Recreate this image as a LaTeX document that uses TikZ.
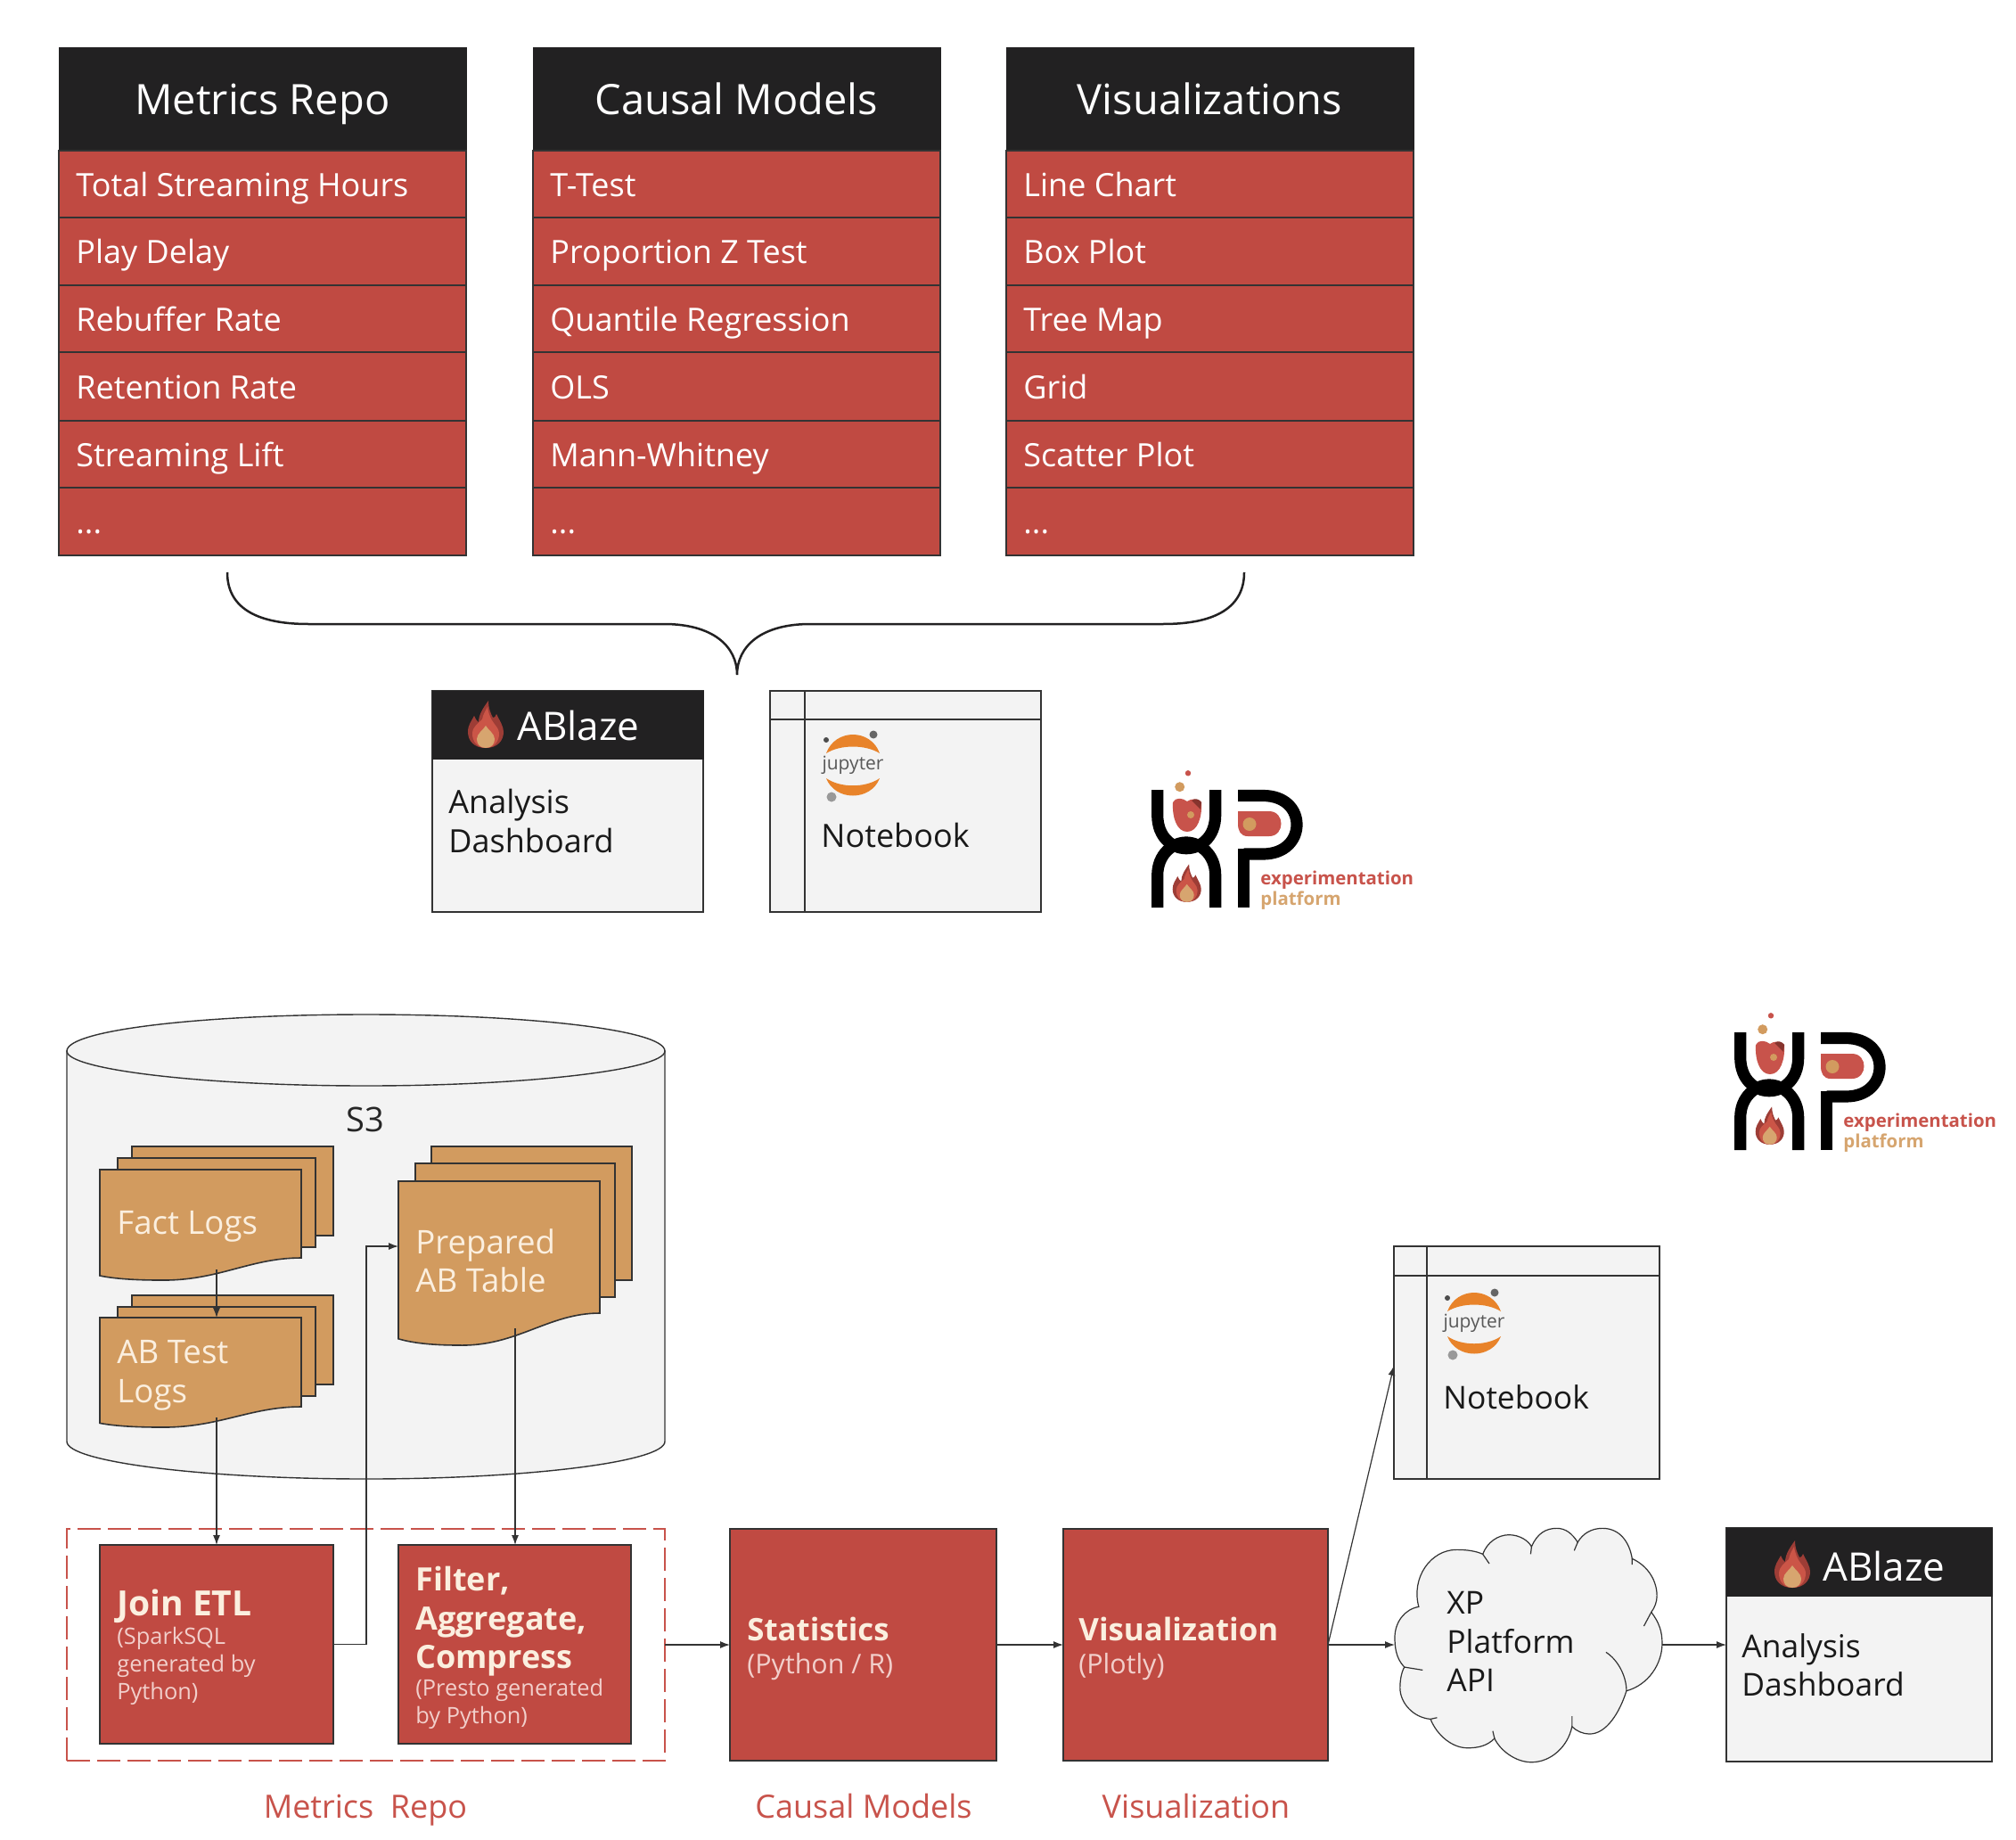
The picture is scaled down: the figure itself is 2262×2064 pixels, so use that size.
\documentclass[tikz,border=0pt]{standalone}
\usepackage{fontspec}
\setmainfont{Open Sans}
\usetikzlibrary{arrows.meta}
\definecolor{xred}{HTML}{C04A42}
\definecolor{xdark}{HTML}{222122}
\definecolor{xgray}{HTML}{F3F3F3}
\definecolor{xorange}{HTML}{D29B5F}
\definecolor{xline}{HTML}{333333}
\definecolor{xlabel}{HTML}{C8534B}
\definecolor{xpale}{HTML}{FBEFDF}
\definecolor{xpink}{HTML}{F2CFCB}
\definecolor{xjup}{HTML}{E8832A}
\newcommand\pxbox[6]{%
  \pgfmathsetmacro\bw{(#4-#2)*0.5}\pgfmathsetmacro\bh{(#5-#3)*0.5}%
  \pgfmathsetmacro\bx{(#2+#4)/2}\pgfmathsetmacro\by{(#3+#5)/2}%
  \node[#6,minimum width=\bw pt,minimum height=\bh pt] (#1) at (\bx,\by) {};}
\newcommand\headbox[3]{\pxbox{#1}{#2}{53}{#2+457}{169}{headst}\node[headtxt] at ([yshift=-.6pt]#1) (#1t) {#3};}
\newcommand\rowbox[5]{\pxbox{#1}{#2}{#3}{#2+457}{#4}{rowst}\node[rowtxt,anchor=west] (#1t) at ({#2+19},{(#3+#4)/2+1}) {#5};}
\newcommand\docback[4]{\draw[docst] (#1,#2) rectangle (#3,#4);}
\newcommand\docfront[4]{\draw[docst] (#1,#2) -- ({#1+226},#2) -- ({#1+226},#3)
  .. controls ({#1+168},#3) and ({#1+133},{#3+#4*1.04}) .. ({#1+68},{#3+#4})
  .. controls ({#1+43},{#3+#4}) and ({#1+18},{#3+#4*0.95}) .. (#1,{#3+#4*0.8}) -- cycle;}
\tikzset{
  capmid/.style={text height=16pt,text depth=3.2pt},
  headst/.style={draw=xdark,fill=xdark,inner sep=0pt,outer sep=0pt},
  headtxt/.style={text=white,inner sep=0pt,text height=20pt,text depth=3.2pt,font=\fontsize{23.5}{27}\selectfont},
  rowst/.style={draw=xline,line width=.7pt,fill=xred,inner sep=0pt,outer sep=0pt},
  rowtxt/.style={text=white,inner sep=0pt,capmid,font=\fontsize{18}{21}\selectfont},
  graybox/.style={draw=xline,line width=.7pt,fill=xgray,inner sep=0pt,outer sep=0pt},
  redbox/.style={draw=xline,line width=.6pt,fill=xred,inner sep=0pt,outer sep=0pt},
  plain/.style={inner sep=0pt,outer sep=0pt},
  darktxt/.style={text=black!90,inner sep=0pt,align=left,font=\fontsize{18}{21.7}\selectfont},
  ablazetxt/.style={text=white,inner sep=0pt,text height=19.5pt,text depth=3.2pt,font=\fontsize{22}{26}\selectfont},
  docst/.style={draw=xline,line width=.8pt,fill=xorange},
  doctxt/.style={text=xpale,inner sep=0pt,align=left,font=\fontsize{18.3}{21.7}\selectfont},
  redbold/.style={text=xpale,inner sep=0pt,align=left,font=\fontsize{18}{21.7}\selectfont\bfseries},
  redsub/.style={text=xpink,inner sep=0pt,align=left,font=\fontsize{12.7}{15.5}\selectfont},
  capt/.style={text=xlabel,inner sep=0pt,capmid,font=\fontsize{18}{21}\selectfont},
  conn/.style={draw=xline,line width=.6pt,-{Latex[length=5.5pt,width=4pt]}},
  flamepic/.pic={
    \fill[fill=xred!82!black] (0,26) .. controls (-13,26) and (-20,18) .. (-20,8)
      .. controls (-20,0) and (-16,-4) .. (-13,-10) .. controls (-11,-6) and (-10,-4) .. (-8,-3)
      .. controls (-8,-12) and (-2,-20) .. (3,-27) .. controls (3,-18) and (6,-12) .. (8,-8)
      .. controls (10,-8) and (11,-9) .. (12,-12) .. controls (16,-4) and (20,2) .. (20,8)
      .. controls (20,18) and (13,26) .. (0,26) -- cycle;
    \fill[fill=xlabel!95!orange] (0,26) .. controls (-10,26) and (-15,18) .. (-15,10)
      .. controls (-15,2) and (-8,-2) .. (-4,-6) .. controls (-3,-12) and (0,-16) .. (2,-20)
      .. controls (3,-12) and (6,-6) .. (9,-2) .. controls (13,3) and (15,6) .. (15,10)
      .. controls (15,18) and (10,26) .. (0,26) -- cycle;
    \fill[fill=xorange!90!white] (0,26) .. controls (-7,26) and (-10,21) .. (-10,16)
      .. controls (-10,10) and (-3,6) .. (0,1) .. controls (3,6) and (10,10) .. (10,16)
      .. controls (10,21) and (7,26) .. (0,26) -- cycle;
  },
  jupiterpic/.pic={
    \fill[fill=xjup] (-30,-13) .. controls (-20,-41) and (20,-41) .. (30,-13)
      .. controls (14,-23) and (-14,-23) .. cycle;
    \fill[fill=xjup] (-30,15) .. controls (-20,41) and (20,41) .. (30,15)
      .. controls (14,26) and (-14,26) .. cycle;
    \fill[fill=black!60] (23,-34) circle (4.5);
    \fill[fill=black!70] (-30,-28) circle (3);
    \fill[fill=black!40] (-24,36) circle (5.5);
    \node[inner sep=0pt,text=black!65,font=\fontsize{10.5}{12}\selectfont] (-jt) at (0,0) {jupyter};
  },
  xplogo/.pic={
    \draw[line width=6.6pt,black] (6.7,0) -- (6.7,28) .. controls (6.7,54) and (24,65.7) .. (39,65.7)
      .. controls (54,65.7) and (71.7,54) .. (71.7,28) -- (71.7,0);
    \draw[line width=6.6pt,black] (6.7,132) -- (6.7,96) .. controls (6.7,72) and (24,59) .. (39,59)
      .. controls (54,59) and (71.7,72) .. (71.7,96) -- (71.7,132);
    \draw[line width=6.6pt,black] (97,6.5) -- (125,6.5) .. controls (150,6.5) and (163,22) .. (163,39)
      .. controls (163,56) and (150,72) .. (125,72) -- (103.6,72);
    \draw[line width=6.6pt,black] (103.6,66) -- (103.6,132);
    \fill[xlabel] (97,24) -- (132,24) .. controls (150,24) and (150,52) .. (132,52) -- (108,52)
      .. controls (100,52) and (97,46) .. (97,38) -- cycle;
    \fill[xorange] (110,38.5) circle (7.5);
    \fill[xlabel] (24,14) .. controls (27,8) and (35,9) .. (40,13) .. controls (44,10) and (50,9) .. (56,14)
      .. controls (57,30) and (52,47) .. (40,47) .. controls (28,47) and (23,30) .. (24,14) -- cycle;
    \fill[xred!70!black] (45,12) .. controls (49,9) and (53,10) .. (56,14) -- (55,22) .. controls (51,18) and (48,15) .. (45,12) -- cycle;
    \fill[xorange] (44,28) circle (4);
    \fill[xlabel] (41,-18.7) circle (3.2);
    \fill[xorange] (31.7,-3.3) circle (5.5);
    \pic[scale=.8] at (39.7,105) {flamepic};
    \node[anchor=west,inner sep=0pt,text=xlabel,font=\fontsize{10.2}{12}\selectfont\bfseries] (-ex) at (122,101.5) {experimentation};
    \node[anchor=west,inner sep=0pt,text=xorange!90!white,font=\fontsize{10.2}{12}\selectfont\bfseries] (-pl) at (122,124.5) {platform};
  }
}
\begin{document}
\begin{tikzpicture}[x=0.5pt,y=-0.5pt]
\useasboundingbox[fill=white] (0,0) rectangle (2262,2064);
% tables
\headbox{ta}{66}{Metrics Repo}
\rowbox{ta1}{66}{169}{244}{Total Streaming Hours}
\rowbox{ta2}{66}{244}{320}{Play Delay}
\rowbox{ta3}{66}{320}{395}{Rebuffer Rate}
\rowbox{ta4}{66}{395}{472}{Retention Rate}
\rowbox{ta5}{66}{472}{547}{Streaming Lift}
\rowbox{ta6}{66}{547}{623}{...}
\headbox{tb}{598}{Causal Models}
\rowbox{tb1}{598}{169}{244}{T-Test}
\rowbox{tb2}{598}{244}{320}{Proportion Z Test}
\rowbox{tb3}{598}{320}{395}{Quantile Regression}
\rowbox{tb4}{598}{395}{472}{OLS}
\rowbox{tb5}{598}{472}{547}{Mann-Whitney}
\rowbox{tb6}{598}{547}{623}{...}
\headbox{tc}{1129}{Visualizations}
\rowbox{tc1}{1129}{169}{244}{Line Chart}
\rowbox{tc2}{1129}{244}{320}{Box Plot}
\rowbox{tc3}{1129}{320}{395}{Tree Map}
\rowbox{tc4}{1129}{395}{472}{Grid}
\rowbox{tc5}{1129}{472}{547}{Scatter Plot}
\rowbox{tc6}{1129}{547}{623}{...}
% brace
\coordinate (bl) at (255,642); \coordinate (bt) at (827,757); \coordinate (br) at (1396,642);
\draw[line width=1.25pt,xdark] (bl) .. controls (255,680) and (285,700) .. (346,700) -- (745,700)
  .. controls (800,700) and (827,725) .. (bt) .. controls (827,725) and (854,700) .. (909,700) -- (1305,700)
  .. controls (1366,700) and (1396,680) .. (br);
% ABlaze 1
\pxbox{ab1}{485}{775}{789}{1023}{graybox}
\pxbox{ab1h}{485}{775}{789}{851}{headst}
\pic at (545,813) {flamepic};
\node[ablazetxt,anchor=west] (ab1t) at (580,814) {ABlaze};
\node[darktxt,anchor=north west] (ab1d) at (503,885) {Analysis\\Dashboard};
% notebook 1
\pxbox{nb1}{864}{775}{1168}{1023}{graybox}
\coordinate (nb1a) at (903,775); \coordinate (nb1b) at (903,1023);
\coordinate (nb1c) at (864,807); \coordinate (nb1d) at (1168,807);
\draw[xline,line width=.7pt] (nb1a) -- (nb1b) (nb1c) -- (nb1d);
\pic (jp1) at (957,858) {jupiterpic};
\node[darktxt,capmid,anchor=west] (nb1t) at (921,938) {Notebook};
% logos
\pic (lg1) at (1292,886) {xplogo};
\pic (lg2) at (1946,1158) {xplogo};
% cylinder
\draw[draw=xline,line width=.7pt,fill=xgray] (75,1179) -- (75,1617) .. controls (75,1640) and (230,1659) .. (411,1659)
  .. controls (590,1659) and (746,1640) .. (746,1617) -- (746,1179) -- cycle;
\draw[draw=xline,line width=.7pt,fill=xgray] (75,1179) .. controls (75,1155) and (230,1138) .. (411,1138)
  .. controls (590,1138) and (746,1155) .. (746,1179) .. controls (746,1200) and (590,1218) .. (411,1218)
  .. controls (230,1218) and (75,1200) .. (75,1179) -- cycle;
\node[inner sep=0pt,text=black!85,capmid,font=\fontsize{19}{21}\selectfont] (s3) at (410,1257) {S3};
% documents
\docback{148}{1286}{374}{1386}
\docback{132}{1299}{354}{1399}
\docfront{112}{1312}{1411}{25}
\docback{148}{1453}{374}{1553}
\docback{132}{1466}{354}{1566}
\docfront{112}{1478}{1578}{23}
\docback{484}{1286}{709}{1436}
\docback{466}{1305}{690}{1455}
\docfront{447}{1325}{1473}{36}
\pxbox{fact}{112}{1312}{338}{1424}{plain}
\pxbox{abt}{112}{1478}{338}{1590}{plain}
\pxbox{prep}{447}{1325}{673}{1471}{plain}
\coordinate (prepout) at (578,1490);
\node[doctxt,capmid,anchor=west] (factt) at (131,1372) {Fact Logs};
\node[doctxt,anchor=north west] (abtt) at (131,1503) {AB Test\\Logs};
\node[doctxt,anchor=north west] (prept) at (466,1378) {Prepared\\AB Table};
% lower boxes
\pxbox{metrics}{75}{1715}{746}{1975}{draw=xlabel,dashed,dash pattern=on 13pt off 4pt,line width=1.2pt,inner sep=0pt,outer sep=0pt}
\pxbox{join}{112}{1733}{374}{1956}{redbox}
\pxbox{filter}{447}{1733}{708}{1956}{redbox}
\pxbox{stats}{819}{1715}{1118}{1975}{redbox}
\pxbox{vis}{1193}{1715}{1490}{1975}{redbox}
\node[redbold,capmid,anchor=west,font=\fontsize{19.5}{22}\selectfont\bfseries] (joint) at (131,1800) {Join ETL};
\node[redsub,anchor=north west] (joins) at (131,1825) {(SparkSQL\\generated by\\Python)};
\node[redbold,anchor=north west] (filtert) at (466,1757) {Filter,\\Aggregate,\\Compress};
\node[redsub,anchor=north west] (filters) at (466,1883) {(Presto generated\\by Python)};
\node[redbold,capmid,anchor=west,font=\fontsize{17.4}{21}\selectfont\bfseries] (statst) at (838,1828) {Statistics};
\node[doctxt,text=xpink,capmid,anchor=west,font=\fontsize{15.2}{18}\selectfont] (statss) at (838,1865) {(Python / R)};
\node[redbold,capmid,anchor=west,font=\fontsize{17.4}{21}\selectfont\bfseries] (vist) at (1210,1828) {Visualization};
\node[doctxt,text=xpink,capmid,anchor=west,font=\fontsize{15.2}{18}\selectfont] (viss) at (1210,1865) {(Plotly)};
% captions
\node[capt] (c1) at (410,2027) {Metrics\ \ Repo};
\node[capt] (c2) at (969,2027) {Causal Models};
\node[capt] (c3) at (1342,2027) {Visualization};
% notebook 2
\pxbox{nb2}{1564}{1398}{1862}{1659}{graybox}
\coordinate (nb2a) at (1601,1398); \coordinate (nb2b) at (1601,1659);
\coordinate (nb2c) at (1564,1431); \coordinate (nb2d) at (1862,1431);
\draw[xline,line width=.7pt] (nb2a) -- (nb2b) (nb2c) -- (nb2d);
\pic (jp2) at (1654,1484) {jupiterpic};
\node[darktxt,capmid,anchor=west,font=\fontsize{17.7}{21.7}\selectfont] (nb2t) at (1619,1568) {Notebook};
\coordinate (nb2in) at (1564,1532);
% cloud
\begin{scope}[shift={(1500,1680)},x=0.2443pt,y=-0.1667pt]
\draw[draw=xline,line width=.6pt,fill=xgray] (188,367)
 .. controls (170,270) and (215,175) .. (275,175)
 .. controls (300,175) and (320,180) .. (335,190)
 .. controls (345,150) and (370,125) .. (395,125)
 .. controls (420,125) and (440,145) .. (447,165)
 .. controls (460,120) and (480,103) .. (505,103)
 .. controls (525,103) and (540,120) .. (553,150)
 .. controls (565,120) and (585,103) .. (610,103)
 .. controls (650,103) and (672,150) .. (678,205)
 .. controls (715,230) and (735,280) .. (735,330)
 .. controls (735,350) and (730,370) .. (722,385)
 .. controls (740,420) and (747,450) .. (747,490)
 .. controls (747,560) and (715,630) .. (665,650)
 .. controls (650,720) and (620,795) .. (580,795)
 .. controls (565,795) and (550,785) .. (540,770)
 .. controls (530,840) and (490,890) .. (447,890)
 .. controls (410,890) and (375,850) .. (362,810)
 .. controls (345,835) and (325,842) .. (300,842)
 .. controls (265,842) and (230,800) .. (215,745)
 .. controls (175,740) and (145,690) .. (145,640)
 .. controls (145,620) and (147,590) .. (155,570)
 .. controls (135,540) and (133,500) .. (133,470)
 .. controls (133,420) and (155,375) .. (188,367) -- cycle;
\draw[xline,line width=.6pt] (155,570) -- (197,580) (335,190) -- (350,222) (447,165) -- (445,190)
  (553,150) -- (545,178) (678,205) -- (678,225) (722,385) -- (705,432)
  (665,650) .. controls (665,600) and (645,545) .. (618,520)
  (540,770) -- (540,735) (362,810) -- (358,785) (215,745) -- (230,740);
\end{scope}
\pxbox{cloud}{1565}{1714}{1865}{1976}{plain}
\node[darktxt,anchor=north west,font=\fontsize{17.7}{21.7}\selectfont] (cloudt) at (1623,1785) {XP\\Platform\\API};
% ABlaze 2
\pxbox{ab2}{1937}{1714}{2235}{1976}{graybox}
\pxbox{ab2h}{1937}{1714}{2235}{1790}{headst}
\pic at (2011,1755) {flamepic};
\node[ablazetxt,anchor=west] (ab2t) at (2045,1757) {ABlaze};
\node[darktxt,anchor=north west,font=\fontsize{17.7}{21.5}\selectfont] (ab2d) at (1954,1832) {Analysis\\Dashboard};
% connectors
\draw[conn] ([xshift=9pt]fact.south) -- ([xshift=9pt]abt.north);
\draw[conn] ([xshift=9pt]abt.south) -- (join.north);
\draw[conn] (join.east) -- ++(37,0) |- (prep.west);
\draw[conn] (prepout) -- (prepout |- filter.north);
\draw[conn] (metrics.east) -- (stats.west);
\draw[conn] (stats.east) -- (vis.west);
\draw[conn] (vis.east) -- (cloud.west);
\draw[conn] (vis.east) -- (nb2in);
\draw[conn] (cloud.east) -- (ab2.west);
\end{tikzpicture}
\end{document}
